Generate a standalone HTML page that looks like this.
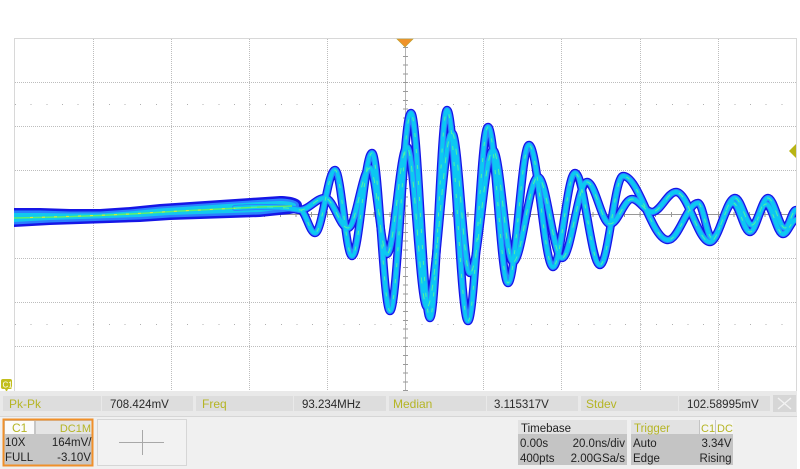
<!DOCTYPE html>
<html><head><meta charset="utf-8"><style>
html,body{margin:0;padding:0;background:#fff;}
body{width:800px;height:469px;overflow:hidden;}
svg{display:block;font-family:"Liberation Sans",Arial,sans-serif;}
</style></head><body>
<svg width="800" height="469" viewBox="0 0 800 469" xmlns="http://www.w3.org/2000/svg">
<defs>
<clipPath id="plot"><rect x="14" y="38" width="782" height="352"/></clipPath>
<path id="pa" d="M235,208 C260,206 285,207 300,210 C305.4,210 309.6,233 315,233 C322.2,233 327.8,170 335,170 C341.1,170 345.9,256 352,256 C359.2,256 364.8,153 372,153 C378.5,153 383.5,311 390,311 C397.6,311 403.4,113 411,113 C417.8,113 423.2,318 430,318 C436.1,318 440.9,110 447,110 C454.6,110 460.4,321 468,321 C475.2,321 480.8,127 488,127 C495.2,127 500.8,283 508,283 C515.6,283 521.4,145 529,145 C537.6,145 544.4,267 553,267 C560.9,267 567.1,173 575,173 C584,173 591,265 600,265 C608.3,265 614.7,176 623,176 C639.2,176 651.8,240 668,240 C678.8,240 687.2,203 698,203 C703,203 707,238 712,238 C719.6,238 725.4,203 733,203 C739.1,203 743.9,232 750,232 C755.8,232 760.2,204 766,204 C772.1,204 776.9,234 783,234 C787.7,234 791.3,220 796,220"/>
<path id="pb" d="M235,208 C260,206 285,207 300,210 C309,210 316,198 325,198 C333.3,198 339.7,228 348,228 C355.9,228 362.1,168 370,168 C376.1,168 380.9,254 387,254 C394.2,254 399.8,147 407,147 C414.2,147 419.8,307 427,307 C436,307 443,133 452,133 C458.5,133 463.5,273 470,273 C478.3,273 484.7,150 493,150 C500.2,150 505.8,262 513,262 C522,262 529,177 538,177 C546.6,177 553.4,258 562,258 C571,258 578,182 587,182 C595.3,182 601.7,224 610,224 C617.9,224 624.1,199 632,199 C639.2,199 644.8,212 652,212 C660.6,212 667.4,192 676,192 C688.2,192 697.8,242 710,242 C719,242 726,198 735,198 C741.1,198 745.9,225 752,225 C757.8,225 762.2,198 768,198 C774.1,198 778.9,228 785,228 C789,228 792,210 796,210"/>
</defs>

<!-- grid -->
<g shape-rendering="crispEdges">
<line x1="14" y1="38.5" x2="797" y2="38.5" stroke="#d8d8d8"/>
<line x1="14.5" y1="38" x2="14.5" y2="391" stroke="#d8d8d8"/>
<line x1="796.5" y1="38" x2="796.5" y2="391" stroke="#d8d8d8"/>
<g stroke="#bdbdbd" stroke-dasharray="1 1">
<line x1="93.5" y1="39" x2="93.5" y2="391"/>
<line x1="171.5" y1="39" x2="171.5" y2="391"/>
<line x1="249.5" y1="39" x2="249.5" y2="391"/>
<line x1="327.5" y1="39" x2="327.5" y2="391"/>
<line x1="483.5" y1="39" x2="483.5" y2="391"/>
<line x1="561.5" y1="39" x2="561.5" y2="391"/>
<line x1="640.5" y1="39" x2="640.5" y2="391"/>
<line x1="718.5" y1="39" x2="718.5" y2="391"/>
<line x1="15" y1="82.5" x2="796" y2="82.5"/>
<line x1="15" y1="126.5" x2="796" y2="126.5"/>
<line x1="15" y1="170.5" x2="796" y2="170.5"/>
<line x1="15" y1="258.5" x2="796" y2="258.5"/>
<line x1="15" y1="302.5" x2="796" y2="302.5"/>
<line x1="15" y1="346.5" x2="796" y2="346.5"/>
</g>
<g stroke="#b0b0b0" stroke-dasharray="1 14.64">
<line x1="15" y1="104.5" x2="796" y2="104.5"/>
<line x1="15" y1="324.5" x2="796" y2="324.5"/>
</g>
<line x1="405.5" y1="39" x2="405.5" y2="391" stroke="#b4b4b4"/>
<line x1="405.5" y1="47" x2="405.5" y2="391" stroke="#9a9a9a" stroke-width="5" stroke-dasharray="1 7.8"/>
<line x1="14" y1="214.5" x2="796" y2="214.5" stroke="#989898"/>
<line x1="14" y1="214.5" x2="796" y2="214.5" stroke="#989898" stroke-width="5" stroke-dasharray="1 14.64"/>
</g>

<!-- waveform -->
<g clip-path="url(#plot)">
<g fill="none" stroke-linecap="round" stroke-linejoin="round">
<use href="#pb" stroke="#1414e8" stroke-width="8.5"/>
<use href="#pa" stroke="#1414e8" stroke-width="8.5"/>
</g>
<path d="M14,208 L40,208 L70,209 L100,209 L130,207 L160,204 L190,202 L220,200 L250,198 L280,196 C292,196 302,199 302,205 C302,211 296,213 290,214 L260,217 L230,218 L200,219 L170,220 L140,222 L110,223 L80,224 L50,225 L14,227 Z" fill="#1616e6"/>
<path d="M14,210.5 L40,210.5 L70,211.5 L100,211.5 L130,209.5 L160,206.5 L190,204.5 L220,202.5 L250,200.5 L280,198.5 C290,198.5 299,201 299,205 C299,209 294,210.5 288,211.5 L260,214.5 L230,215.5 L200,216.5 L170,217.5 L140,219.5 L110,220.5 L80,221.5 L50,222.5 L14,224.5 Z" fill="#2a80ff"/>
<path d="M14,213 L40,213 L70,213.5 L100,213.5 L130,211.5 L160,208.5 L190,206.5 L220,204.5 L250,202.5 L280,201 C290,201 296,203 296,205 C296,207 291,208 286,209 L260,212 L230,213 L200,214 L170,215 L140,217 L110,218 L80,219 L50,220 L14,222 Z" fill="#12c8f0"/>
<g fill="none" stroke-linecap="round" stroke-linejoin="round">
<use href="#pb" stroke="#2a86ff" stroke-width="6"/>
<use href="#pa" stroke="#2a86ff" stroke-width="6"/>
<use href="#pb" stroke="#0cc8f2" stroke-width="4"/>
<use href="#pa" stroke="#0cc8f2" stroke-width="4"/>
</g>
<polyline points="14,218 60,217 100,215.5 140,213.5 180,211 220,209 260,207 292,206" fill="none" stroke="#5cf070" stroke-width="1.6"/>
<polyline points="30,217.5 50,217 120,214.5 170,211.5 240,208" fill="none" stroke="#e8e830" stroke-width="1" stroke-dasharray="3 9"/>
<g fill="none">
<use href="#pb" stroke="#50f0a8" stroke-width="1" stroke-dasharray="6 10"/>
<use href="#pa" stroke="#50f0a8" stroke-width="1" stroke-dasharray="4 12"/>
</g>
</g>

<!-- markers -->
<polygon points="397,39 413,39 405,47" fill="#f0922a" stroke="#b8a030" stroke-width="0.6"/>
<polygon points="796,144 796,158 789,151" fill="#b8b414"/>
<rect x="1" y="379" width="11" height="10" rx="2" fill="#c2be1c"/>
<polygon points="5,389 8,389 6.5,392" fill="#c2be1c"/>
<text x="2.5" y="387.5" font-size="8" fill="#fff">C1</text>

<!-- measurement bar -->
<rect x="0" y="391" width="797" height="25" fill="#e9e9e9"/>
<line x1="0" y1="416.5" x2="797" y2="416.5" stroke="#d6d6d6"/>
<g fill="#dddddd">
<rect x="3" y="396" width="98" height="15"/>
<rect x="102" y="396" width="91" height="15"/>
<rect x="196" y="396" width="97" height="15"/>
<rect x="294" y="396" width="92" height="15"/>
<rect x="389" y="396" width="97" height="15"/>
<rect x="487" y="396" width="91" height="15"/>
<rect x="581" y="396" width="97" height="15"/>
<rect x="679" y="396" width="91" height="15"/>
</g>
<rect x="773" y="395" width="23" height="17" fill="#d6d6d6"/>
<g stroke="#f2f2f2" stroke-width="1.4"><line x1="778" y1="398" x2="791" y2="409"/><line x1="791" y1="398" x2="778" y2="409"/></g>
<g font-size="12">
<text x="9" y="408" fill="#b5b525">Pk-Pk</text>
<text x="110" y="408" fill="#2a2a2a" font-size="11.5">708.424mV</text>
<text x="202" y="408" fill="#b5b525">Freq</text>
<text x="302" y="408" fill="#2a2a2a" font-size="11.5">93.234MHz</text>
<text x="393" y="408" fill="#b5b525">Median</text>
<text x="494" y="408" fill="#2a2a2a" font-size="11.5">3.115317V</text>
<text x="586" y="408" fill="#b5b525">Stdev</text>
<text x="687" y="408" fill="#2a2a2a" font-size="11.5">102.58995mV</text>
</g>

<!-- bottom panel -->
<rect x="0" y="417" width="797" height="52" fill="#f0f0f0"/>

<!-- channel box -->
<rect x="3.5" y="419.5" width="89" height="46" fill="#c6c6c6" stroke="#f0902a" stroke-width="2"/>
<rect x="5" y="421" width="29" height="13" fill="#fbfbfb"/>
<rect x="36" y="421" width="55.5" height="13" fill="#e4e4e4"/>
<g font-size="11.5">
<text x="12" y="432" fill="#b5b525" font-size="12">C1</text>
<text x="91" y="432" fill="#b5b525" text-anchor="end" font-size="11">DC1M</text>
<text x="5" y="446" fill="#222">10X</text>
<text x="91.5" y="446" fill="#222" text-anchor="end">164mV/</text>
<text x="5" y="461" fill="#222">FULL</text>
<text x="91" y="461" fill="#222" text-anchor="end">-3.10V</text>
</g>

<!-- add box -->
<rect x="97.5" y="419.5" width="89" height="46" fill="#f2f2f2" stroke="#bcbcbc" stroke-dasharray="1 1" shape-rendering="crispEdges"/>
<g stroke="#a8a8a8" shape-rendering="crispEdges"><line x1="119" y1="442.5" x2="164" y2="442.5"/><line x1="142.5" y1="430" x2="142.5" y2="455"/></g>

<!-- timebase -->
<rect x="518" y="420" width="109" height="45" fill="#c4c4c4"/>
<rect x="518" y="420" width="109" height="14" fill="#e2e2e2"/>
<g font-size="11.5" fill="#222">
<text x="521" y="432">Timebase</text>
<text x="520" y="447">0.00s</text>
<text x="625" y="447" text-anchor="end">20.0ns/div</text>
<text x="520" y="462">400pts</text>
<text x="625" y="462" text-anchor="end">2.00GSa/s</text>
</g>

<!-- trigger -->
<rect x="631" y="420" width="102" height="45" fill="#c4c4c4"/>
<rect x="631" y="420" width="68" height="14" fill="#e2e2e2"/>
<rect x="700" y="420" width="15" height="14" fill="#f5f5f5"/>
<rect x="716" y="420" width="17" height="14" fill="#f5f5f5"/>
<g font-size="11.5">
<text x="634" y="432" fill="#b5b525">Trigger</text>
<text x="701" y="432" fill="#b5b525" font-size="11">C1</text>
<text x="717" y="432" fill="#b5b525" font-size="11">DC</text>
<text x="633" y="447" fill="#222">Auto</text>
<text x="731.5" y="447" fill="#222" text-anchor="end">3.34V</text>
<text x="633" y="462" fill="#222">Edge</text>
<text x="731.5" y="462" fill="#222" text-anchor="end">Rising</text>
</g>
</svg>
</body></html>
